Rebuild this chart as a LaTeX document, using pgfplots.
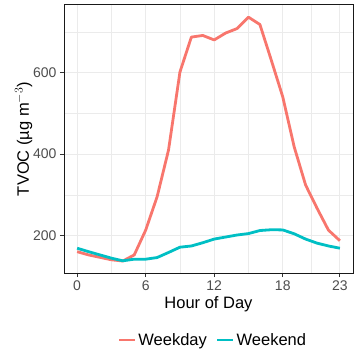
\documentclass[border=0pt]{standalone}
\usepackage{fontspec}
\setmainfont{Liberation Sans}
\usepackage{pgfplots}
\pgfplotsset{compat=1.18}
\definecolor{wd}{HTML}{F8766D}
\definecolor{we}{HTML}{00BFC4}
\definecolor{gridmaj}{HTML}{EBEBEB}
\definecolor{ticklab}{HTML}{4D4D4D}
\definecolor{tickcol}{HTML}{333333}
\begin{document}
\begin{tikzpicture}
\useasboundingbox (0bp,0bp) rectangle (360bp,360bp);
\begin{axis}[
  at={(64bp,87bp)}, anchor=south west,
  scale only axis, width=289bp, height=268bp,
  xmin=-1.15, xmax=24.15, ymin=107.5, ymax=767,
  xtick={0,6,12,18,23}, ytick={200,400,600},
  minor xtick={3,9,15,20.5}, minor ytick={300,500,700},
  grid=both,
  major grid style={gridmaj, line width=0.9bp},
  minor grid style={gridmaj, line width=0.5bp},
  axis line style={black!90, line width=1bp},
  tick align=outside, tick pos=left,
  major tick length=4bp, minor tick length=0pt,
  major tick style={tickcol, line width=0.9bp},
  /pgf/number format/assume math mode=true,
  ticklabel style={font=\fontsize{14bp}{16bp}\selectfont, text=ticklab},
  label style={font=\fontsize{16.5bp}{19bp}\selectfont},
  xlabel={Hour of Day},
  ylabel={TVOC (µg m$^{-3}$)},
  xlabel style={at={(axis description cs:0.5,-0.1157)}, anchor=center},
  ylabel style={at={(axis description cs:-0.14,0.5)}, anchor=center},
  legend style={at={(axis description cs:0.515,-0.25)}, anchor=center, draw=none, fill=none,
    font=\fontsize{16.5bp}{19bp}\selectfont,
    /tikz/every even column/.append style={column sep=7bp}},
  legend columns=2,
  legend image code/.code={\draw[#1] (0bp,0bp) -- (16bp,0bp);},
  every axis plot/.append style={line width=2.8bp, line join=round},
]
\addplot[wd] coordinates {
(0,160) (1,152) (2,146) (3,140) (4,137) (5,152) (6,213) (7,295) (8,410) (9,602)
(10,688) (11,692) (12,681) (13,698) (14,709) (15,737) (16,719) (17,631) (18,541)
(19,418) (20,324) (21,267) (22,213) (23,187)};
\addlegendentry{Weekday}
\addplot[we] coordinates {
(0,168.5) (1,160) (2,152) (3,144) (4,137.5) (5,141.5) (6,141.5) (7,145.5) (8,158)
(9,171) (10,174) (11,182) (12,191) (13,196) (14,201) (15,204.5) (16,212) (17,214)
(18,213.5) (19,204) (20,191) (21,181) (22,174) (23,168.5)};
\addlegendentry{Weekend}
\end{axis}
\end{tikzpicture}
\end{document}
